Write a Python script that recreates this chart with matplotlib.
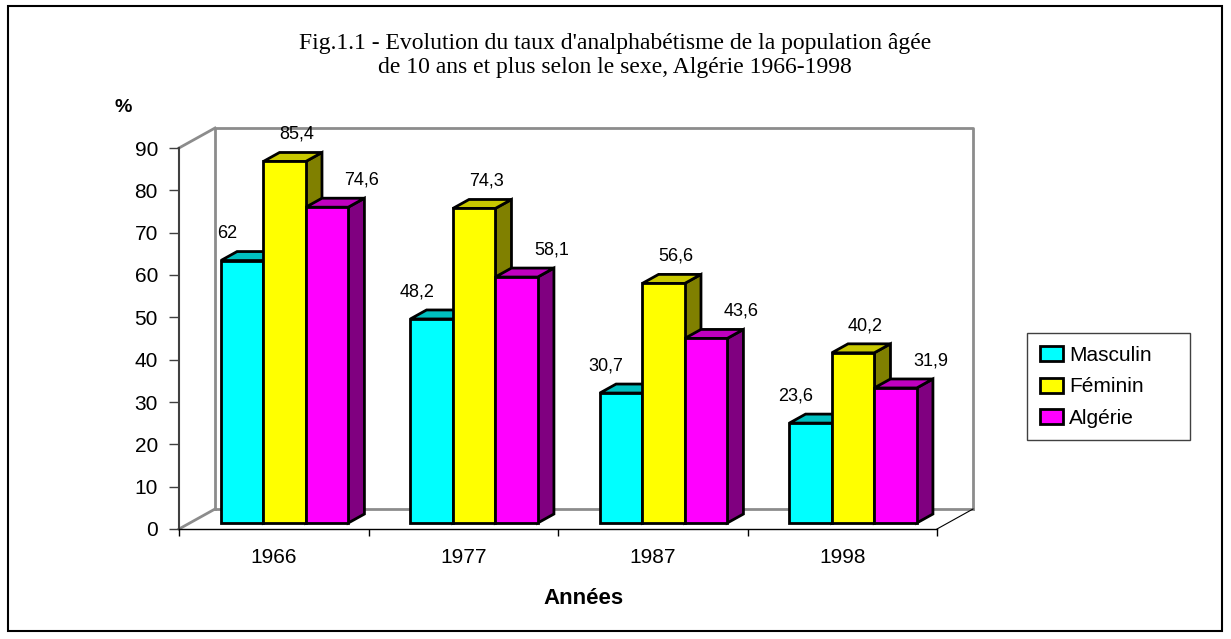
import matplotlib
matplotlib.use('Agg')  # no display
import matplotlib.pyplot as plt
from matplotlib.patches import Polygon, Rectangle, Patch

years = ['1966', '1977', '1987', '1998']
series_names = ['Masculin', 'Féminin', 'Algérie']
masculin = [62, 48.2, 30.7, 23.6]
feminin = [85.4, 74.3, 56.6, 40.2]
algerie = [74.6, 58.1, 43.6, 31.9]

front_colors = ['#00FFFF', '#FFFF00', '#FF00FF']
top_colors = ['#00C0C0', '#C8C800', '#C000C0']
side_colors = ['#008080', '#808000', '#800080']

W, H = 1231, 639
fig = plt.figure(figsize=(W / 100, H / 100), dpi=100)
ax = fig.add_axes([179 / W, 1 - 529 / H, (937 - 179) / W, (529 - 148) / H])
ax.set_xlim(0, 4)
ax.set_ylim(0, 90)

# depth of the 3D box, in data units
DX, DY = 0.19, 4.72
F0, BD = 0.3, 0.45      # bar front face depth, bar depth (fractions)
GAP, BW = 0.164, 0.224  # gap before first bar, bar width

wall = '#8c8c8c'
ax.plot([DX, DX, 4 + DX, 4 + DX], [DY, 90 + DY, 90 + DY, DY], color=wall, lw=2, clip_on=False, zorder=1)
ax.plot([DX, 4 + DX], [DY, DY], color=wall, lw=2, clip_on=False, zorder=1)
ax.plot([0, DX], [0, DY], color=wall, lw=2, clip_on=False, zorder=1)
ax.plot([0, DX], [90, 90 + DY], color=wall, lw=2, clip_on=False, zorder=1)
ax.plot([4, 4 + DX], [0, DY], color='black', lw=0.8, clip_on=False, zorder=1)


def bar3d(x0, h, k):
    ox, oy = F0 * DX, F0 * DY
    ddx, ddy = BD * DX, BD * DY
    x = x0 + ox
    kw = dict(edgecolor='black', lw=2, joinstyle='miter', clip_on=False, zorder=3)
    ax.add_patch(Polygon([(x + BW, oy), (x + BW + ddx, oy + ddy), (x + BW + ddx, oy + h + ddy), (x + BW, oy + h)],
                         facecolor=side_colors[k], **kw))
    ax.add_patch(Polygon([(x, oy + h), (x + BW, oy + h), (x + BW + ddx, oy + h + ddy), (x + ddx, oy + h + ddy)],
                         facecolor=top_colors[k], **kw))
    ax.add_patch(Rectangle((x, oy), BW, h, facecolor=front_colors[k], **kw))
    return x + BW / 2, oy + h


label_dx = [-15, 12, 35]  # px shift of the value labels per series
for i in range(len(years)):
    for k, vals in enumerate([masculin, feminin, algerie]):
        cx, top = bar3d(i + GAP + k * BW, vals[i], k)
        txt = f"{vals[i]:g}".replace('.', ',')
        ax.annotate(txt, xy=(cx, top), xytext=(label_dx[k] * 0.72, 27 * 0.72), textcoords='offset points',
                    ha='center', va='center', fontsize=13, family='Liberation Sans', annotation_clip=False, zorder=4)

for s in ['top', 'right']:
    ax.spines[s].set_visible(False)
ax.spines['left'].set_color('#404040')
ax.spines['left'].set_linewidth(1.5)
ax.spines['bottom'].set_color('black')
ax.spines['bottom'].set_linewidth(1)
ax.patch.set_visible(False)

ax.set_yticks(range(0, 100, 10))
ax.tick_params(axis='y', length=7.2, width=1, pad=8, labelsize=15, color='#404040')
ax.set_xticks([0, 1, 2, 3, 4])
ax.set_xticklabels([])
ax.set_xticks([0.5, 1.5, 2.5, 3.5], minor=True)
ax.set_xticklabels(years, minor=True)
ax.tick_params(axis='x', which='major', length=5, width=1)
ax.tick_params(axis='x', which='minor', length=0, pad=14, labelsize=15)
for t in ax.get_xticklabels(minor=True) + ax.get_yticklabels():
    t.set_family('Liberation Sans')

fig.text(615 / W, 1 - 43 / H, "Fig.1.1 - Evolution du taux d'analphabétisme de la population âgée",
         ha='center', va='center', fontsize=17, family='Liberation Serif')
fig.text(615 / W, 1 - 67 / H, "de 10 ans et plus selon le sexe, Algérie 1966-1998",
         ha='center', va='center', fontsize=17, family='Liberation Serif')
fig.text(123 / W, 1 - 107 / H, '%', ha='center', va='center', fontsize=14, fontweight='bold', family='Liberation Sans')
fig.text(583 / W, 1 - 598 / H, 'Années', ha='center', va='center', fontsize=16, fontweight='bold', family='Liberation Sans')

handles = [Patch(facecolor=c, edgecolor='black', lw=2) for c in front_colors]
leg = fig.legend(handles, series_names, loc='upper left', mode='expand',
                 bbox_to_anchor=(1017 / W, 1 - 434 / H, 183 / W, 111 / H),
                 bbox_transform=fig.transFigure, fancybox=False, edgecolor='#404040', framealpha=1,
                 prop={'family': 'Liberation Sans', 'size': 15}, handlelength=1.1, handleheight=0.75,
                 handletextpad=0.3, labelspacing=0.6, borderpad=0.6)
leg.get_frame().set_linewidth(1)

fig.add_artist(Rectangle((8 / W, 1 - 631 / H), (1222 - 8) / W, (631 - 6) / H, transform=fig.transFigure,
                         fill=False, edgecolor='black', lw=1.5))

fig.savefig('out.png', dpi=100)
